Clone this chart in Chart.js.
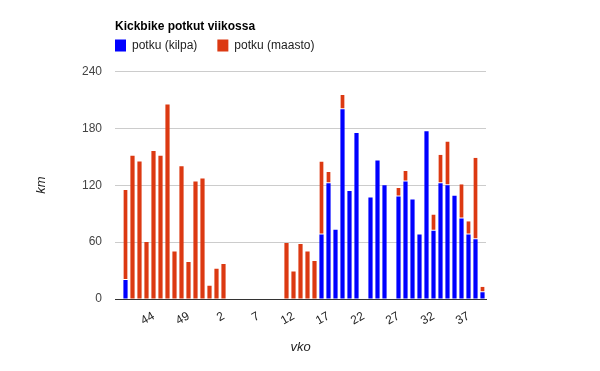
<!DOCTYPE html>
<html>
<head>
<meta charset="utf-8">
<script src="https://cdn.jsdelivr.net/npm/chart.js@4.4.0/dist/chart.umd.min.js"></script>
<style>
  html, body { margin: 0; padding: 0; background: #fff; }
  #wrap { width: 600px; height: 371px; }
</style>
</head>
<body>
<div id="wrap"><canvas id="chart1" width="600" height="371"></canvas></div>
<script>
// viikot 39/2012 ... 39/2013
var weeks = ['39','40','41','42','43','44','45','46','47','48','49','50','51','52',
             '1','2','3','4','5','6','7','8','9','10','11','12','13','14','15','16','17','18','19','20',
             '21','22','23','24','25','26','27','28','29','30','31','32','33','34','35','36','37','38','39'];

var kilpa = [0, 20, 0, 0, 0, 0, 0, 0, 0, 0, 0, 0, 0, 0,
             0, 0, 0, 0, 0, 0, 0, 0, 0, 0, 0, 0, 0, 0, 0, 68, 122, 73, 200, 114,
             175, 0, 107, 146, 120, 0, 108, 124, 105, 68, 177, 72, 122, 120, 109, 85, 68, 63, 7];

var maasto = [0, 95, 151, 145, 60, 156, 151, 205, 50, 140, 39, 124, 127, 14,
              32, 37, 0, 0, 0, 0, 0, 0, 0, 0, 59, 29, 58, 50, 40, 77, 12, 0, 15, 0,
              0, 0, 0, 0, 0, 0, 9, 11, 0, 0, 0, 17, 30, 46, 0, 36, 14, 86, 6];

var yTicks = [0, 60, 120, 180, 240];

Chart.defaults.font.family = "'Liberation Sans', Arial, sans-serif";
Chart.defaults.font.size = 12;
Chart.defaults.color = '#222';

// selite piirretään itse otsikon alle
var legendPlugin = {
    id: 'ownLegend',
    afterDraw: function(chart) {
        var c = chart.ctx;
        var x = chart.chartArea.left;
        var y = 45.5;
        c.save();
        c.font = "12px 'Liberation Sans', Arial, sans-serif";
        c.textBaseline = 'middle';
        chart.data.datasets.forEach(function(ds) {
            c.fillStyle = ds.backgroundColor;
            c.fillRect(x, y - 6, 11, 12);
            c.fillStyle = '#222';
            c.fillText(ds.label, x + 17, y);
            x += 17 + c.measureText(ds.label).width + 20;
        });
        c.restore();
    }
};

var ctx = document.getElementById('chart1').getContext('2d');
var myChart = new Chart(ctx, {
    type: 'bar',
    data: {
        labels: weeks,
        datasets: [{
            label: 'potku (kilpa)',
            data: kilpa,
            backgroundColor: '#0000ff',
            borderWidth: 0
        }, {
            label: 'potku (maasto)',
            data: maasto,
            backgroundColor: '#dc3912',
            borderColor: '#ffffff',
            borderSkipped: false,
            borderWidth: function(c) {
                return kilpa[c.dataIndex] > 0 ? {top: 0, left: 0, right: 0, bottom: 1} : 0;
            }
        }]
    },
    options: {
        responsive: false,
        animation: false,
        layout: {
            padding: {left: 30, right: 114, top: 0, bottom: 12}
        },
        datasets: {
            bar: {
                barPercentage: 0.6,
                categoryPercentage: 1.0
            }
        },
        scales: {
            x: {
                stacked: true,
                afterFit: function(scale) { scale.height = 60; },
                grid: { display: false },
                border: { display: true, color: '#333', width: 1 },
                ticks: {
                    autoSkip: false,
                    minRotation: 30,
                    maxRotation: 30,
                    padding: 2,
                    color: '#222',
                    callback: function(val, i) {
                        return (i > 0 && i % 5 === 0) ? this.getLabelForValue(val) : '';
                    }
                },
                title: {
                    display: true,
                    text: 'vko',
                    color: '#222',
                    font: { style: 'italic', size: 13 },
                    padding: {top: 4, bottom: 4}
                }
            },
            y: {
                stacked: true,
                min: 0,
                max: 240,
                afterFit: function(scale) { scale.width = 85; },
                afterBuildTicks: function(scale) {
                    scale.ticks = yTicks.map(function(v) { return {value: v}; });
                },
                grid: { color: '#cccccc', drawTicks: false },
                border: { display: false },
                ticks: { padding: 13, color: '#444' },
                title: {
                    display: true,
                    text: 'km',
                    color: '#222',
                    font: { style: 'italic', size: 13 },
                    padding: {top: 4, bottom: 4}
                }
            }
        },
        plugins: {
            legend: { display: false },
            tooltip: { enabled: false },
            title: {
                display: true,
                text: 'Kickbike potkut viikossa',
                align: 'start',
                fullSize: false,
                color: '#000',
                font: { size: 12, weight: 'bold' },
                padding: {top: 19, bottom: 38}
            }
        }
    },
    plugins: [legendPlugin]
});
</script>
</body>
</html>
